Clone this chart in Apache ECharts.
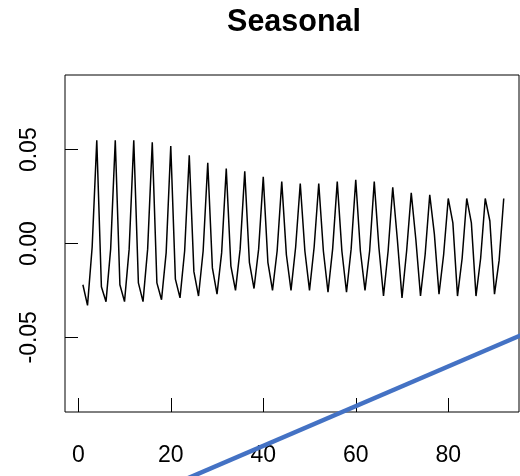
<!DOCTYPE html>
<html>
<head>
<meta charset="utf-8">
<script src="https://cdn.jsdelivr.net/npm/echarts@6/dist/echarts.min.js"></script>
<style>
html,body{margin:0;padding:0;background:#fff;}
#chart{width:520px;height:476px;}
</style>
</head>
<body>
<div id="chart"></div>
<script>
// Seasonal component, quarterly (t = 1..92)
var seasonal = [
  -0.022, -0.033, -0.002, 0.055,
  -0.023, -0.031, -0.003, 0.055,
  -0.022, -0.031, -0.003, 0.055,
  -0.021, -0.031, -0.003, 0.054,
  -0.021, -0.030, -0.005, 0.052,
  -0.019, -0.029, -0.004, 0.047,
  -0.015, -0.028, -0.004, 0.043,
  -0.013, -0.027, -0.005, 0.040,
  -0.012, -0.025, -0.003, 0.0385,
  -0.010, -0.024, -0.003, 0.0355,
  -0.010, -0.025, -0.004, 0.033,
  -0.006, -0.025, -0.002, 0.032,
  -0.004, -0.025, -0.002, 0.032,
  -0.004, -0.026, -0.003, 0.033,
  -0.004, -0.026, -0.003, 0.034,
  -0.004, -0.025, -0.004, 0.033,
  -0.002, -0.028, -0.004, 0.030,
   0.002, -0.029, -0.004, 0.027,
   0.002, -0.028, -0.006, 0.026,
   0.005, -0.027, -0.006, 0.024,
   0.011, -0.028, -0.008, 0.024,
   0.011, -0.028, -0.008, 0.024,
   0.012, -0.027, -0.009, 0.024
];
var xTicks = [0, 20, 40, 60, 80];
var yTicks = [-0.05, 0, 0.05];
var titleText = 'Seasonal';
// overlaid straight line (endpoints)
var trendX = [20, 96];
var trendY = [-0.1290, -0.0486];

var seasonalData = seasonal.map(function (v, i) { return [i + 1, v]; });
var trendData = trendX.map(function (x, i) { return [x, trendY[i]]; });

var FONT = '"Liberation Sans", Arial, Helvetica, sans-serif';
var chart = echarts.init(document.getElementById('chart'), null, {renderer: 'canvas'});
chart.setOption({
  animation: false,
  backgroundColor: '#ffffff',
  graphic: [{
    type: 'text', x: 294, y: 23, z: 20,
    style: {
      text: titleText, textAlign: 'center', textVerticalAlign: 'middle',
      font: 'bold 30.5px ' + FONT, fill: '#000'
    }
  }],
  grid: {
    left: 65, top: 75, width: 454, height: 337,
    show: true, borderColor: '#000', borderWidth: 1, backgroundColor: 'transparent'
  },
  xAxis: {
    type: 'value', min: -2.87, max: 95.3,
    axisLine: {show: false, onZero: false},
    splitLine: {show: false},
    axisTick: {show: true, inside: true, length: 14, customValues: xTicks, lineStyle: {color: '#000', width: 1}},
    axisLabel: {customValues: xTicks, margin: 32, fontFamily: FONT, fontSize: 23, color: '#000'}
  },
  yAxis: {
    type: 'value', min: -0.0898, max: 0.0898,
    axisLine: {show: false, onZero: false},
    splitLine: {show: false},
    axisTick: {show: true, inside: true, length: 13, customValues: yTicks, lineStyle: {color: '#000', width: 1}},
    axisLabel: {
      customValues: yTicks, rotate: 90, margin: 24, fontFamily: FONT, fontSize: 23, color: '#000',
      formatter: function (v) { return v.toFixed(2); }
    }
  },
  series: [
    {
      type: 'line', data: seasonalData, symbol: 'none',
      lineStyle: {color: '#000', width: 1.5}, z: 3
    },
    {
      type: 'line', data: trendData, symbol: 'none', clip: false,
      lineStyle: {color: '#4472C4', width: 4.5}, z: 10
    }
  ]
});
</script>
</body>
</html>
